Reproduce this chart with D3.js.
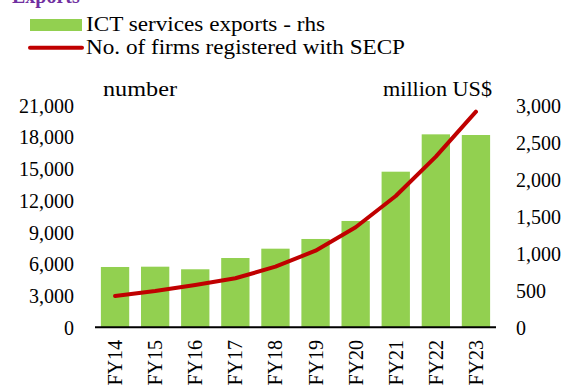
<!DOCTYPE html>
<html>
<head>
<meta charset="utf-8">
<script src="https://cdn.jsdelivr.net/npm/d3@7"></script>
<style>
  html, body { margin: 0; padding: 0; background: #fff; }
  svg { display: block; }
  text { font-family: "Liberation Serif", "DejaVu Serif", serif; fill: #000; }
</style>
</head>
<body>
<svg id="chart" width="566" height="388"></svg>
<script>
// Fiscal years
const categories = ["FY14", "FY15", "FY16", "FY17", "FY18", "FY19", "FY20", "FY21", "FY22", "FY23"];
// ICT services exports, million US$ (right axis)
const ictExports = [814, 818, 783, 935, 1061, 1192, 1435, 2100, 2604, 2595];
// Number of firms registered with SECP (left axis)
const firmsRegistered = [2950, 3430, 4000, 4630, 5725, 7240, 9450, 12400, 16120, 20370];
// Axis ticks
const leftTicks = [0, 3000, 6000, 9000, 12000, 15000, 18000, 21000];
const rightTicks = [0, 500, 1000, 1500, 2000, 2500, 3000];

const green = "#92D050";
const red = "#C00000";

const svg = d3.select("#chart");

const x = d3.scaleBand()
  .domain(categories)
  .range([95, 496])
  .paddingInner(0.294)
  .paddingOuter(0.147);

const yLeft = d3.scaleLinear().domain([0, 21000]).range([327.3, 105]);
const yRight = d3.scaleLinear().domain([0, 3000]).range([327.3, 105]);

const fmt = d3.format(",");

// Bars: ICT services exports
svg.append("g")
  .selectAll("rect")
  .data(categories.map((c, i) => ({ c, v: ictExports[i] })))
  .join("rect")
  .attr("x", d => x(d.c))
  .attr("y", d => yRight(d.v))
  .attr("width", x.bandwidth())
  .attr("height", d => yRight(0) - yRight(d.v))
  .attr("fill", green);

// Line: firms registered
const line = d3.line()
  .x(d => x(d.c) + x.bandwidth() / 2)
  .y(d => yLeft(d.v));

svg.append("path")
  .datum(categories.map((c, i) => ({ c, v: firmsRegistered[i] })))
  .attr("d", line)
  .attr("fill", "none")
  .attr("stroke", red)
  .attr("stroke-width", 4)
  .attr("stroke-linecap", "round")
  .attr("stroke-linejoin", "round");

// Baseline
svg.append("line")
  .attr("x1", 95).attr("x2", 496)
  .attr("y1", yLeft(0)).attr("y2", yLeft(0))
  .attr("stroke", "#000").attr("stroke-width", 2);

// Left axis
const leftAxis = d3.axisLeft(yLeft).tickValues(leftTicks).tickFormat(fmt).tickSize(0).tickPadding(0);
const gL = svg.append("g").attr("transform", "translate(74,0)").call(leftAxis);
gL.select(".domain").remove();
gL.selectAll("text").style("font-size", "20px").style("font-family", "Liberation Serif, serif").attr("dy", "0.35em");

// Right axis
const rightAxis = d3.axisRight(yRight).tickValues(rightTicks).tickFormat(fmt).tickSize(0).tickPadding(0);
const gR = svg.append("g").attr("transform", "translate(516,0)").call(rightAxis);
gR.select(".domain").remove();
gR.selectAll("text").style("font-size", "20px").style("font-family", "Liberation Serif, serif").attr("dy", "0.35em");

// Category labels, rotated
const xAxis = d3.axisBottom(x).tickSize(0).tickPadding(0);
const gX = svg.append("g").attr("transform", "translate(0,340)").call(xAxis);
gX.select(".domain").remove();
gX.selectAll("text")
  .style("font-size", "20px")
  .style("font-family", "Liberation Serif, serif")
  .attr("text-anchor", "end")
  .attr("transform", "rotate(-90)")
  .attr("x", 0)
  .attr("y", 0)
  .attr("dy", "0.35em");

// Axis unit labels
svg.append("text").attr("x", 103).attr("y", 96).style("font-size", "20px")
  .attr("textLength", 74).attr("lengthAdjust", "spacingAndGlyphs").text("number");
svg.append("text").attr("x", 383).attr("y", 96).style("font-size", "20px")
  .attr("textLength", 109).attr("lengthAdjust", "spacingAndGlyphs").text("million US$");

// Title (partly above the top edge)
svg.append("text").attr("x", 12).attr("y", 3)
  .style("font-size", "20px").style("font-weight", "bold").style("fill", "#7030A0")
  .text("Exports");

// Legend
const legend = svg.append("g");
legend.append("rect").attr("x", 30).attr("y", 19).attr("width", 52).attr("height", 12).attr("fill", green);
legend.append("text").attr("x", 86).attr("y", 31).style("font-size", "21px")
  .attr("textLength", 239).attr("lengthAdjust", "spacingAndGlyphs").text("ICT services exports - rhs");
legend.append("line").attr("x1", 30).attr("x2", 82).attr("y1", 47.7).attr("y2", 47.7)
  .attr("stroke", red).attr("stroke-width", 4).attr("stroke-linecap", "round");
legend.append("text").attr("x", 86).attr("y", 54).style("font-size", "21px")
  .attr("textLength", 319).attr("lengthAdjust", "spacingAndGlyphs").text("No. of firms registered with SECP");
</script>
</body>
</html>
